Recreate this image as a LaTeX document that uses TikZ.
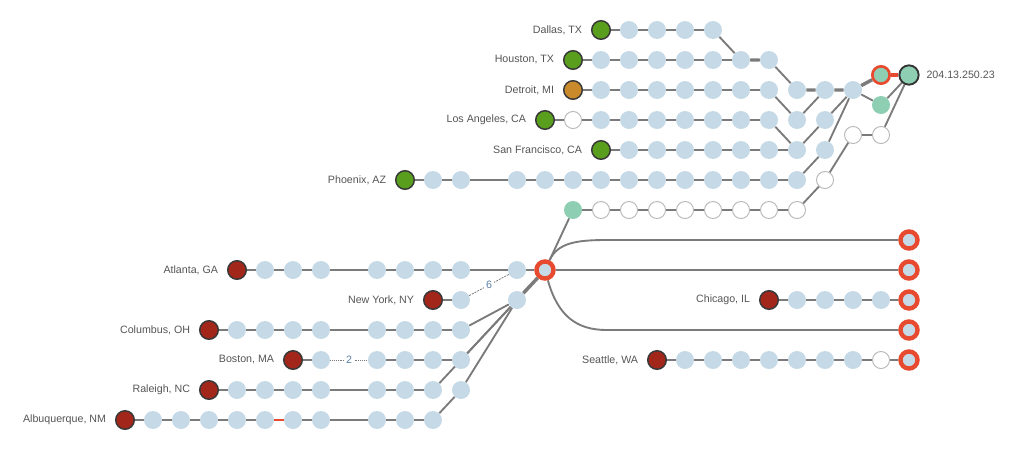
\documentclass[tikz,border=0pt]{standalone}
\usepackage{fontspec}
\setmainfont{Liberation Sans}
\usetikzlibrary{positioning}
\pgfdeclarelayer{bg}
\pgfsetlayers{bg,main}
\definecolor{hopblue}{HTML}{C5DAE6}
\definecolor{srcgreen}{HTML}{5A9E1E}
\definecolor{srcred}{HTML}{A3261B}
\definecolor{srcorange}{HTML}{C98A2C}
\definecolor{mint}{HTML}{8ECFB4}
\definecolor{ringred}{HTML}{E84A2F}
\definecolor{linkgray}{HTML}{7B7B7B}
\definecolor{txtgray}{HTML}{555555}
\definecolor{countblue}{HTML}{5C7FA8}
\tikzset{
  bead/.style  = {circle, inner sep=0pt, minimum size=13.5pt},
  hop/.style   = {bead, fill=hopblue},
  void/.style  = {bead, fill=white, draw=black!28, line width=0.7pt, minimum size=12.8pt},
  src/.style   = {bead, draw=black!78, line width=1.1pt, minimum size=13.9pt},
  ring/.style  = {bead, fill=hopblue, draw=ringred, line width=3.3pt, minimum size=12.8pt},
  sink/.style  = {bead, fill=mint, draw=black!80, line width=1.4pt, minimum size=14.5pt},
  lbl/.style   = {font=\fontsize{8}{9}\selectfont, text=txtgray, inner sep=0pt},
  cnt/.style   = {font=\fontsize{8}{9}\selectfont, text=countblue, fill=white, inner sep=1.5pt},
  link/.style  = {draw=linkgray, line width=1.4pt},
  trunk/.style = {link, line width=2.6pt},
  gap/.style   = {draw=linkgray, line width=0.6pt}
}
\begin{document}
\begin{tikzpicture}[x=21pt, y=-22.5pt]
\useasboundingbox (-4.464,-1) rectangle (32.107,14);

% sources, with the city names on their left
\foreach \n/\c/\r/\col/\city in {
    dal/17/0/srcgreen/{Dallas, TX}, hou/16/1/srcgreen/{Houston, TX},
    det/16/2/srcorange/{Detroit, MI}, la/15/3/srcgreen/{Los Angeles, CA},
    sf/17/4/srcgreen/{San Francisco, CA}, phx/10/5/srcgreen/{Phoenix, AZ},
    atl/4/8/srcred/{Atlanta, GA}, ny/11/9/srcred/{New York, NY},
    col/3/10/srcred/{Columbus, OH}, bos/6/11/srcred/{Boston, MA},
    ral/3/12/srcred/{Raleigh, NC}, abq/0/13/srcred/{Albuquerque, NM},
    chi/23/9/srcred/{Chicago, IL}, sea/19/11/srcred/{Seattle, WA}}
  {
    \node[src, fill=\col] (\n\c) at (\c,\r) {};
    \node[lbl, left=6.5pt of \n\c] (\n) {\city};
  }

% hops of every row
\foreach \n/\r/\cols in {
    dal/0/{18,...,21}, hou/1/{17,...,23}, det/2/{17,...,26},
    la/3/{17,...,25}, sf/4/{18,...,25}, phx/5/{11,12,14,15,...,24},
    atl/8/{5,6,7,9,10,11,12,14}, ny/9/{12,14}, col/10/{4,5,6,7,9,10,11,12},
    bos/11/{7,9,10,11,12}, ral/12/{4,5,6,7,9,10,11,12},
    abq/13/{1,...,7,9,10,11}, chi/9/{24,...,27}, sea/11/{20,...,26}}
  \foreach \c in \cols \node[hop] (\n\c) at (\c,\r) {};

% backup path, gateway and the exits
\node[void] (la16) at (16,3) {};
\node[void] (sea27) at (27,11) {};
\node[bead, fill=mint] (bk16) at (16,6) {};
\foreach \c in {17,...,24} \node[void] (bk\c) at (\c,6) {};
\node[void] (bk25) at (25,5) {};
\node[void] (bk26) at (26,3.5) {};
\node[void] (bk27) at (27,3.5) {};
\node[ring, fill=mint, line width=2pt, minimum size=13pt] (gw) at (27,1.5) {};
\node[bead, fill=mint] (gw2) at (27,2.5) {};
\node[sink] (dst) at (28,1.5) {};
\node[lbl, right=5pt of dst] (ip) {204.13.250.23};
\node[ring] (hub) at (15,8) {};
\foreach \r in {7,...,11} \node[ring] (ex\r) at (28,\r) {};
\coordinate (b7) at (17.2,7);
\coordinate (b10) at (17.2,10);

\begin{pgfonlayer}{bg}
% links along each row
\foreach \n/\s/\cols in {
    dal/17/{18,...,21}, hou/16/{17,...,23}, det/16/{17,...,23},
    la/15/{16,...,23}, sf/17/{18,...,24}, phx/10/{11,12,14,15,...,24},
    bk/16/{17,...,24}, atl/4/{5,6,7,9,10,11,12,14}, ny/11/{12},
    col/3/{4,5,6,7,9,10,11,12}, bos/9/{10,11,12}, ral/3/{4,5,6,7,9,10,11},
    abq/0/{1,...,7,9,10,11}, chi/23/{24,...,27}, sea/19/{20,...,27}}
  \foreach \c [remember=\c as \p (initially \s)] in \cols
    \draw[link] (\n\p) -- (\n\c);

% links where the routes meet
\foreach \a/\b in {dal21/hou22, hou23/det24, det23/la24, la23/sf24, la24/det25,
    sf24/la25, la25/det26, phx24/sf25, sf25/det26, det26/gw2, gw2/dst,
    bk24/bk25, bk25/bk26, bk26/bk27, bk27/dst, bk16/hub, atl14/hub,
    col12/ny14, bos12/ny14, ral11/ny14, ral12/ny14, abq11/ral12,
    bos6/bos7, hub/ex8, chi27/ex9, sea27/ex11}
  \draw[link] (\a) -- (\b);
\draw[trunk] (hou22) -- (hou23) (det24) -- (det25) -- (det26) -- (gw) (ny14) -- (hub);
\draw[trunk, draw=ringred] (gw) -- (dst);
\draw[link, draw=ringred] (abq5) -- (abq6);
\draw[link] (hub) .. controls +(0.45,-0.9) and +(-1.1,0) .. (b7) -- (ex7);
\draw[link] (hub) .. controls +(0.45,1.5) and +(-1.1,0) .. (b10) -- (ex10);

% skipped hops
\draw[gap, dash pattern=on 1.5pt off 0.8pt] (ny12) -- node[cnt] {6} (atl14);
\draw[gap, dash pattern=on 0.7pt off 0.7pt] (bos7) -- node[cnt] {2} (bos9);
\end{pgfonlayer}
\end{tikzpicture}
\end{document}
